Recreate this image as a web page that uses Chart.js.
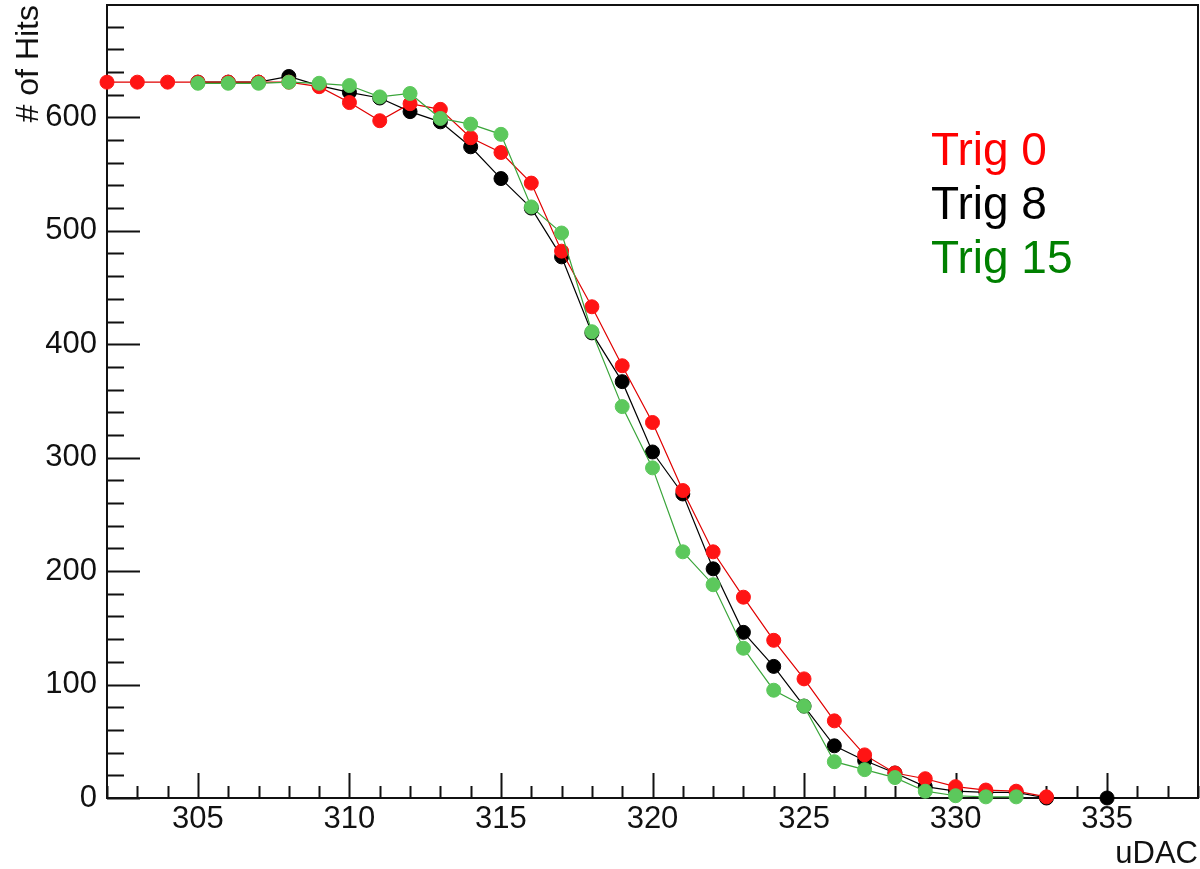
<!DOCTYPE html>
<html>
<head>
<meta charset="utf-8">
<script src="https://cdn.jsdelivr.net/npm/chart.js@4.4.1/dist/chart.umd.min.js"></script>
<style>
  html, body { margin: 0; padding: 0; background: #fff; }
  #wrap { width: 1200px; height: 869px; position: relative; }
</style>
</head>
<body>
<div id="wrap"><canvas id="scurve"></canvas></div>
<script>
// axis ticks
const xTicks = [305, 310, 315, 320, 325, 330, 335];
const yTicks = [0, 100, 200, 300, 400, 500, 600];

// Trig 0 (red)
const trig0X = [302, 303, 304, 305, 306, 307, 308, 309, 310, 311, 312, 313, 314, 315, 316, 317,
                318, 319, 320, 321, 322, 323, 324, 325, 326, 327, 328, 329, 330, 331, 332, 333];
const trig0Y = [631, 631, 631, 631, 631, 631, 631, 627, 613, 597, 612, 607, 582, 569, 542, 482,
                433, 381, 331, 271, 217, 177, 139, 105, 68, 38, 22, 17, 10, 7, 6, 1];

// Trig 8 (black)
const trig8X = [305, 306, 307, 308, 309, 310, 311, 312, 313, 314, 315, 316, 317, 318, 319,
                320, 321, 322, 323, 324, 325, 326, 327, 328, 329, 330, 331, 332, 333, 335];
const trig8Y = [631, 631, 631, 636, 628, 622, 617, 605, 596, 574, 546, 520, 477, 410, 367,
                305, 268, 202, 146, 116, 81, 46, 33, 22, 10, 6, 5, 5, 0, 0];

// Trig 15 (green)
const trig15X = [305, 306, 307, 308, 309, 310, 311, 312, 313, 314, 315, 316, 317, 318,
                 319, 320, 321, 322, 323, 324, 325, 326, 327, 328, 329, 330, 331, 332];
const trig15Y = [630, 630, 630, 631, 630, 628, 618, 621, 599, 594, 585, 521, 498, 411,
                 345, 291, 217, 188, 132, 95, 81, 32, 25, 18, 6, 2, 1, 1];

const legendItems = [
    { text: 'Trig 0', color: '#ff0000' },
    { text: 'Trig 8', color: '#000000' },
    { text: 'Trig 15', color: '#008000' }
];

const FONT = "'Liberation Sans', Arial, Helvetica, sans-serif";
Chart.defaults.font.family = FONT;

function toPoints(xs, ys) {
    return xs.map((x, i) => ({ x: x, y: ys[i] }));
}

function series(label, xs, ys, line, marker, order) {
    return {
        label: label,
        data: toPoints(xs, ys),
        borderColor: line,
        borderWidth: 1.2,
        pointRadius: 7,
        pointHoverRadius: 7,
        pointBackgroundColor: marker,
        pointBorderColor: marker,
        pointBorderWidth: 1,
        tension: 0,
        fill: false,
        clip: false,
        order: order
    };
}

// ROOT style frame with inward ticks
const rootFrame = {
    id: 'rootFrame',
    beforeDatasetsDraw(chart) {
        const { ctx, chartArea: a, scales } = chart;
        const x = scales.x, y = scales.y;
        ctx.save();
        ctx.strokeStyle = '#111';
        ctx.lineWidth = 2;
        ctx.beginPath();
        // y ticks: major every 100, minor every 20
        for (let v = 0; v <= y.max; v += 20) {
            const py = Math.round(y.getPixelForValue(v)) + 0.5;
            const len = (v % 100 === 0) ? 33 : 17;
            ctx.moveTo(a.left, py);
            ctx.lineTo(a.left + len, py);
        }
        // x ticks: major every 5, minor every 1
        for (let v = Math.ceil(x.min); v <= x.max; v++) {
            const px = Math.round(x.getPixelForValue(v)) + 0.5;
            const len = (v % 5 === 0) ? 25 : 12;
            ctx.moveTo(px, a.bottom);
            ctx.lineTo(px, a.bottom - len);
        }
        ctx.stroke();
        ctx.strokeRect(a.left, a.top, a.right - a.left, a.bottom - a.top);
        ctx.restore();
    },
    afterDraw(chart) {
        const ctx = chart.ctx;
        ctx.save();
        ctx.font = '46px ' + FONT;
        ctx.textAlign = 'left';
        ctx.textBaseline = 'alphabetic';
        legendItems.forEach((it, i) => {
            ctx.fillStyle = it.color;
            ctx.fillText(it.text, 931, 165 + i * 54);
        });
        ctx.restore();
    }
};

const ctx = document.getElementById('scurve').getContext('2d');
const chart = new Chart(ctx, {
    type: 'line',
    data: {
        datasets: [
            series('Trig 0', trig0X, trig0Y, '#e00000', '#ff1414', 1),
            series('Trig 8', trig8X, trig8Y, '#000000', '#000000', 2),
            series('Trig 15', trig15X, trig15Y, '#3aa53a', '#5cc85c', 0)
        ]
    },
    options: {
        responsive: true,
        maintainAspectRatio: false,
        animation: false,
        layout: { autoPadding: false, padding: { top: 5, right: 2, left: 0, bottom: 0 } },
        plugins: {
            legend: { display: false },
            tooltip: { enabled: false }
        },
        scales: {
            x: {
                type: 'linear',
                min: 302,
                max: 338,
                grid: { display: false, drawTicks: false },
                border: { display: false },
                afterBuildTicks: s => { s.ticks = xTicks.map(v => ({ value: v })); },
                afterFit: s => {
                    s.height = 71;
                    s.paddingLeft = 0;
                    s.paddingRight = 0;
                },
                ticks: {
                    padding: 3,
                    color: '#111',
                    font: { size: 31 },
                    maxRotation: 0,
                    autoSkip: false
                },
                title: {
                    display: true,
                    text: 'uDAC',
                    align: 'end',
                    color: '#111',
                    font: { size: 31 },
                    padding: { top: 0, bottom: -4 }
                }
            },
            y: {
                min: 0,
                max: 699,
                grid: { display: false, drawTicks: false },
                border: { display: false },
                afterBuildTicks: s => { s.ticks = yTicks.map(v => ({ value: v })); },
                afterFit: s => {
                    s.width = 107;
                    s.paddingTop = 0;
                    s.paddingBottom = 0;
                },
                ticks: {
                    padding: 10,
                    color: '#111',
                    font: { size: 31 },
                    autoSkip: false
                },
                title: {
                    display: true,
                    text: '# of Hits',
                    align: 'end',
                    color: '#111',
                    font: { size: 32 },
                    padding: { top: 10, bottom: 0 }
                }
            }
        }
    },
    plugins: [rootFrame]
});
</script>
</body>
</html>
